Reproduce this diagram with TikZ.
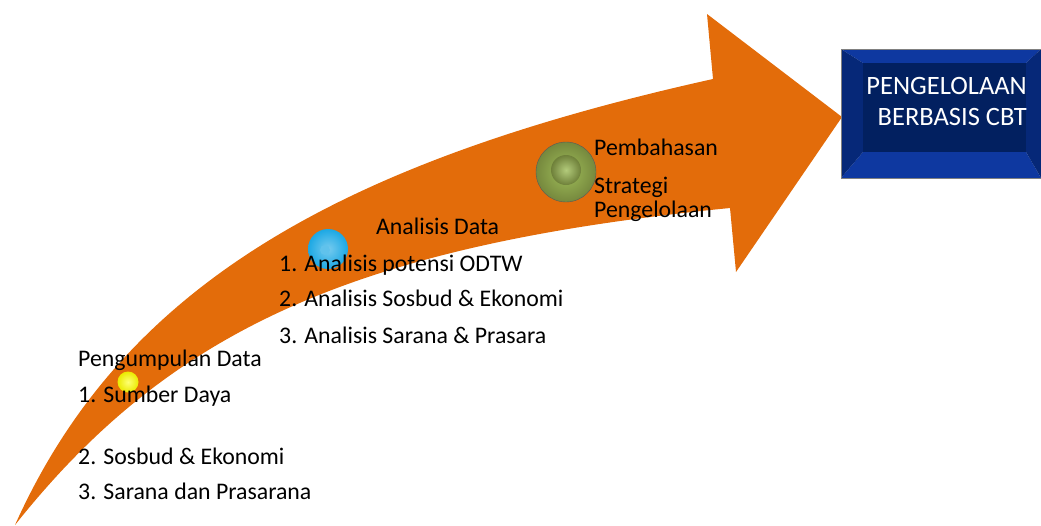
\documentclass[tikz,border=0pt]{standalone}
\usepackage{fontspec}
\setmainfont{Carlito}
\usetikzlibrary{shapes}
\usetikzlibrary{calc}
\definecolor{ArrowOrange}{RGB}{227,108,10}
\definecolor{BoxNavy}{RGB}{2,32,96}
\definecolor{BoxRimLight}{RGB}{14,56,160}
\definecolor{BoxRimDark}{RGB}{6,40,120}
\definecolor{BallBlue}{RGB}{28,168,228}
\definecolor{BallGreen}{RGB}{138,160,72}
\definecolor{BallGreenLight}{RGB}{160,190,90}
\tikzstyle{StepText}=[anchor=base west, inner sep=0pt, font=\fontsize{23.8}{28}\selectfont]
\tikzstyle{BallNode}=[circle, inner sep=0pt]
\tikzstyle{YellowBall}=[BallNode, minimum size=21pt, inner color=yellow!55!white, outer color=yellow!92!black]
\tikzstyle{BlueBall}=[BallNode, minimum size=40pt, inner color=BallBlue!60!white, outer color=BallBlue]
\tikzstyle{GreenBall}=[BallNode, minimum size=60pt, draw=gray!70!black, inner color=BallGreenLight, outer color=BallGreen!85!black]
\tikzstyle{BoxText}=[align=right, text=white, inner sep=0pt, font=\fontsize{26.5}{31}\selectfont]

\begin{document}
\begin{tikzpicture}[x=1pt,y=-1pt]
\useasboundingbox (0,0) rectangle (1041,525);

% big curved arrow
\fill[ArrowOrange] (15,525) .. controls (120,291) and (330,164) .. (713,79)
  -- (707,14) -- (842,117) -- (736,272) -- (730,208)
  .. controls (355,245) and (170,330) .. (15,525) -- cycle;

% bevelled box
\fill[BoxRimLight] (841,49) -- (1041,49) -- (1026,63) -- (863,63) -- cycle;
\fill[BoxRimLight] (841,178) -- (1041,178) -- (1026,152) -- (863,152) -- cycle;
\fill[BoxRimDark] (841,49) -- (863,63) -- (863,152) -- (841,178) -- cycle;
\fill[BoxRimDark] (1041,49) -- (1026,63) -- (1026,152) -- (1041,178) -- cycle;
\fill[BoxNavy] (863,63) rectangle (1026,152);
\draw[gray] (841,49) rectangle (1041,178);
\node[BoxText, anchor=east](goal) at (1027,101) {PENGELOLAAN\\BERBASIS CBT};

% balls
\node[YellowBall](ballA) at (128,382) {};
\node[BlueBall](ballB) at (328,249) {};
\node[BallNode, minimum size=10pt, fill=BallBlue!70!white](ballBin) at (325,250) {};
\node[GreenBall](ballC) at (566,172) {};
\node[BallNode, minimum size=30pt, inner color=BallGreenLight!80!white, outer color=BallGreen!80!black](ballCin) at (566,170) {};

% texts
\node[StepText](collect) at (78,366) {Pengumpulan Data};
\node[StepText](collect1) at (78,402) {1. Sumber Daya};
\node[StepText](collect2) at (78,464) {2. Sosbud \& Ekonomi};
\node[StepText](collect3) at (78,499) {3. Sarana dan Prasarana};

\node[StepText](analys) at (376,234) {Analisis Data};
\node[StepText](analys1) at (279,271) {1. Analisis potensi ODTW};
\node[StepText](analys2) at (279,306) {2. Analisis Sosbud \& Ekonomi};
\node[StepText](analys3) at (279,343) {3. Analisis Sarana \& Prasara};

\node[StepText](discuss) at (594,155) {Pembahasan};
\node[StepText](discuss1) at (594,193) {Strategi};
\node[StepText](discuss2) at (594,217) {Pengelolaan};
\end{tikzpicture}
\end{document}
